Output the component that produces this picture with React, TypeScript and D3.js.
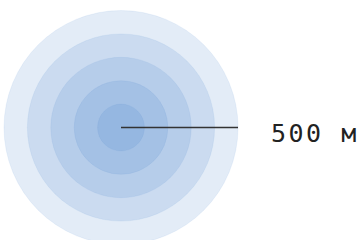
import React, { useEffect, useRef } from 'react';
import * as d3 from 'd3';

// distances shown as rings, in metres
const distances = [500, 400, 300, 200, 100];
const scaleLabel = '500 м';

const App = () => {
    const ref = useRef<SVGSVGElement | null>(null);

    useEffect(() => {
        const width = 362;
        const height = 240;
        const cx = 121;
        const cy = 127.5;

        const svg = d3.select(ref.current);
        svg.selectAll('*').remove();

        const rScale = d3.scaleLinear()
            .domain([0, d3.max(distances) as number])
            .range([0, 117]);

        const g = svg.append('g')
            .attr('transform', `translate(${cx}, ${cy})`);

        g.selectAll('circle')
            .data(distances)
            .enter()
            .append('circle')
            .attr('r', d => rScale(d))
            .attr('fill', 'rgb(70, 125, 200)')
            .attr('fill-opacity', 0.15)
            .attr('stroke', 'rgb(70, 125, 200)')
            .attr('stroke-opacity', 0.08);

        const maxD = d3.max(distances) as number;

        g.append('line')
            .attr('x1', 0)
            .attr('y1', 0)
            .attr('x2', rScale(maxD))
            .attr('y2', 0)
            .attr('stroke', '#333')
            .attr('stroke-width', 1.5);

        g.append('text')
            .attr('x', rScale(maxD) + 33)
            .attr('y', 14.5)
            .attr('font-family', '"DejaVu Sans Mono", monospace')
            .attr('font-size', 25)
            .attr('letter-spacing', 2.5)
            .attr('fill', '#222')
            .text(scaleLabel);

        svg.attr('width', width).attr('height', height);
    }, []);

    return (
        <svg ref={ref} width={362} height={240}
            style={{ position: 'absolute', left: 0, top: 0, display: 'block' }} />
    );
};

export default App;
